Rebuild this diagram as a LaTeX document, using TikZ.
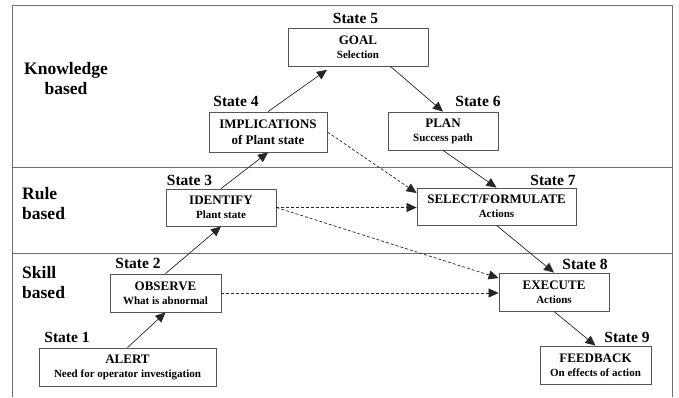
\documentclass[tikz,border=0pt]{standalone}
\usepackage{fontspec}
\setmainfont{Liberation Serif}
\usetikzlibrary{arrows.meta,calc}
\definecolor{framegray}{RGB}{110,110,110}
\definecolor{boxgray}{RGB}{85,85,85}
% first line of a box, set a little larger than the second
\newcommand\hd[1]{{\fontsize{13}{14}\selectfont #1}}
\begin{document}
\begin{tikzpicture}[x=1pt,y=-1pt,
  stbox/.style={draw=boxgray, line width=0.8pt, fill=white, inner sep=0pt,
    align=center, font=\bfseries\fontsize{11}{14}\selectfont},
  statelbl/.style={anchor=base, inner sep=0pt, font=\bfseries\fontsize{15.5}{18}\selectfont},
  levellbl/.style={anchor=base, inner sep=0pt, font=\bfseries\fontsize{17.5}{20}\selectfont},
  flow/.style={draw=black!85, line width=0.7pt, -{Triangle[length=10pt,width=9pt]}},
  skip/.style={flow, dash pattern=on 3pt off 2pt}
]
\useasboundingbox (0,0) rectangle (679,397);

% frame and the three behaviour bands
\draw[framegray, line width=0.8pt] (12,397) -- (12,5) -- (672,5) -- (672,397);
\draw[framegray, line width=0.8pt] (12,167) -- (672,167) (12,253) -- (672,253);

% band names (base anchor sits on the last line)
\node[levellbl, align=center] (kb) at (66,94) {Knowledge\\based};
\node[levellbl, align=left, anchor=base west] (rb) at (22,219) {Rule\\based};
\node[levellbl, align=left, anchor=base west] (sb) at (22,298) {Skill\\based};

% states
\node[stbox, minimum width=177pt, minimum height=38pt] (alert)    at (127.5,367) {\hd{ALERT}\\Need for operator investigation};
\node[stbox, minimum width=111pt, minimum height=38pt] (observe)  at (165.5,293) {\hd{OBSERVE}\\What is abnormal};
\node[stbox, minimum width=110pt, minimum height=37pt] (ident)    at (221,207.5) {\hd{IDENTIFY}\\Plant state};
\node[stbox, minimum width=118pt, minimum height=40pt] (impl)     at (268,132)   {\hd{IMPLICATIONS}\\[2pt]\hd{of Plant state}};
\node[stbox, minimum width=140pt, minimum height=38pt] (goal)     at (358,47)    {\hd{GOAL}\\Selection};
\node[stbox, minimum width=110pt, minimum height=38pt] (plan)     at (443,131)   {\hd{PLAN}\\Success path};
\node[stbox, minimum width=159pt, minimum height=37pt] (select)   at (496.5,206.5) {\hd{SELECT/FORMULATE}\\Actions};
\node[stbox, minimum width=110pt, minimum height=38pt] (execute)  at (554,292)   {\hd{EXECUTE}\\Actions};
\node[stbox, minimum width=111pt, minimum height=38pt] (feedback) at (595.5,365) {\hd{FEEDBACK}\\On effects of action};

% state numbers
\node[statelbl] (s1) at (67,342)    {State 1};
\node[statelbl] (s2) at (138,268)   {State 2};
\node[statelbl] (s3) at (189.5,185) {State 3};
\node[statelbl] (s4) at (236,106)   {State 4};
\node[statelbl] (s5) at (355.5,23)  {State 5};
\node[statelbl] (s6) at (478,106)   {State 6};
\node[statelbl] (s7) at (553,185)   {State 7};
\node[statelbl] (s8) at (585,269)   {State 8};
\node[statelbl] (s9) at (627,342)   {State 9};

% main path through the ladder
\draw[flow] (alert.north) -- (observe.south);
\draw[flow] (observe.north) -- (ident.south);
\draw[flow] (ident.north) -- (impl.south);
\draw[flow, shorten >=6pt] (impl.north) -- ($(goal.south west)!0.314!(goal.south east)$);
\draw[flow] ($(goal.south west)!0.73!(goal.south east)$) -- (plan.north);
\draw[flow] (plan.south) -- (select.north);
\draw[flow] (select.south) -- (execute.north);
\draw[flow] (execute.south) -- (feedback.north);

% shortcuts
\draw[skip] (impl.east) -- ($(select.west)+(0,-13.5)$);
\draw[skip] (ident.east) -- (ident.east -| select.west);
\draw[skip] (ident.east) -- ($(execute.west)+(0,-14)$);
\draw[skip] (observe.east) -- (observe.east -| execute.west);
\end{tikzpicture}
\end{document}
